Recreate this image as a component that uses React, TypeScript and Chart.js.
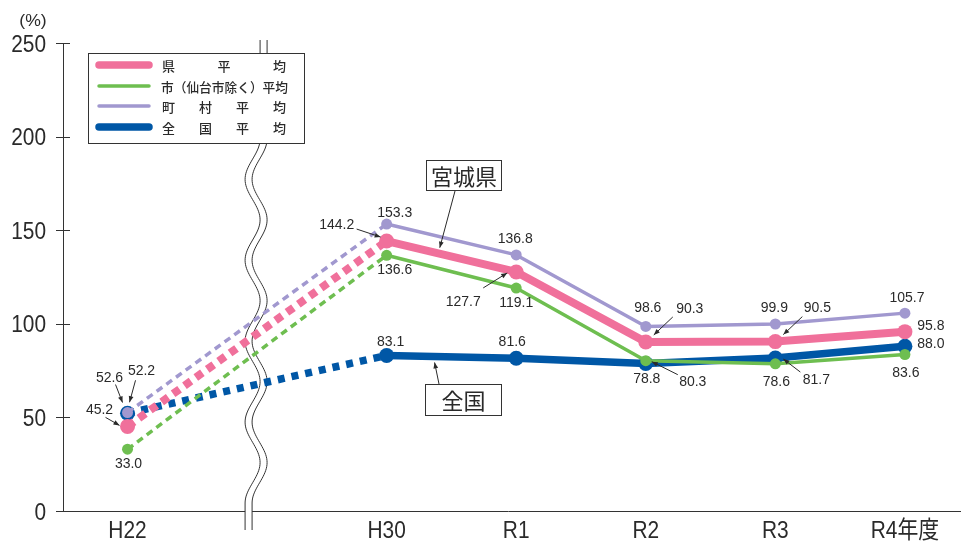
import React, { useEffect, useRef } from "react";
import { Chart, registerables } from "chart.js";

Chart.register(...registerables);

// ---------------- data ----------------
const categories = ["H22", "", "H30", "R1", "R2", "R3", "R4年度"];
const yTicks = [0, 50, 100, 150, 200, 250];
const seriesNames = ["県平均", "市（仙台市除く）平均", "町村平均", "全国平均"];
const kenAvg = [45.2, null, 144.2, 127.7, 90.3, 90.5, 95.8];
const shiAvg = [33.0, null, 136.6, 119.1, 80.3, 78.6, 83.6];
const chosonAvg = [52.6, null, 153.3, 136.8, 98.6, 99.9, 105.7];
const zenkokuAvg = [52.2, null, 83.1, 81.6, 78.8, 81.7, 88.0];
const calloutKen = "宮城県";
const calloutZenkoku = "全国";

// ---------------- styles ----------------
const PINK = "#f0709b";
const GREEN = "#6ebe50";
const LAVENDER = "#a198cf";
const BLUE = "#0057a6";
const INK = "#2a2a2a";
const LATIN = '"Liberation Sans", Arial, "Noto Sans CJK JP", sans-serif';
const JP = '"Noto Sans CJK JP", "Noto Sans CJK SC", sans-serif';

const seriesData = [kenAvg, shiAvg, chosonAvg, zenkokuAvg];
const seriesColors = [PINK, GREEN, LAVENDER, BLUE];
const seriesWidths = [8, 3.5, 3.5, 7.5];
const seriesRadius = [7.5, 5.5, 5.5, 7.5];
const seriesDash = [[8, 6], [7, 5], [7, 5], [7, 7]];
const seriesOrder = [1, 2, 0, 3];

// label placement: series index, category index, text offset, optional arrow offsets
type Ann = { s: number; i: number; dx: number; dy: number; ar?: number[] };
const labelPlacement: Ann[] = [
  { s: 2, i: 0, dx: -18, dy: -36, ar: [-12, -28, -5, -10] },
  { s: 3, i: 0, dx: 14, dy: -43, ar: [8, -33, 2, -11] },
  { s: 0, i: 0, dx: -28, dy: -17, ar: [-22, -9, -8, -1] },
  { s: 1, i: 0, dx: 1, dy: 14 },
  { s: 2, i: 2, dx: 8, dy: -12 },
  { s: 0, i: 2, dx: -50, dy: -17, ar: [-30, -12, -6, -4] },
  { s: 1, i: 2, dx: 8, dy: 14 },
  { s: 3, i: 2, dx: 4, dy: -14 },
  { s: 2, i: 3, dx: -1, dy: -17 },
  { s: 0, i: 3, dx: -53, dy: 29, ar: [-33, 16, -9, 1] },
  { s: 1, i: 3, dx: 0, dy: 14 },
  { s: 3, i: 3, dx: -4, dy: -17 },
  { s: 2, i: 4, dx: 2, dy: -19 },
  { s: 0, i: 4, dx: 44, dy: -34, ar: [27, -25, 8, -7] },
  { s: 1, i: 4, dx: 47, dy: 20, ar: [32, 14, 6, 1] },
  { s: 3, i: 4, dx: 1, dy: 15 },
  { s: 2, i: 5, dx: -1, dy: -17 },
  { s: 0, i: 5, dx: 42, dy: -35, ar: [27, -25, 8, -7] },
  { s: 1, i: 5, dx: 1, dy: 17 },
  { s: 3, i: 5, dx: 41, dy: 21, ar: [25, 14, 8, 1] },
  { s: 2, i: 6, dx: 2, dy: -16 },
  { s: 0, i: 6, dx: 26, dy: -7 },
  { s: 3, i: 6, dx: 26, dy: -3 },
  { s: 1, i: 6, dx: 1, dy: 17 },
];

function drawLatin(ctx: CanvasRenderingContext2D, text: string, x: number, cy: number, size: number, align: CanvasTextAlign, sx = 1) {
  ctx.save();
  ctx.font = `${size}px ${LATIN}`;
  ctx.textAlign = align;
  ctx.textBaseline = "alphabetic";
  ctx.translate(x, cy + size * 0.358);
  ctx.scale(sx, 1);
  ctx.fillText(text, 0, 0);
  ctx.restore();
}

function drawArrow(ctx: CanvasRenderingContext2D, x1: number, y1: number, x2: number, y2: number) {
  ctx.save();
  ctx.strokeStyle = INK;
  ctx.fillStyle = INK;
  ctx.lineWidth = 1;
  ctx.beginPath();
  ctx.moveTo(x1, y1);
  ctx.lineTo(x2, y2);
  ctx.stroke();
  const a = Math.atan2(y2 - y1, x2 - x1);
  const L = 6, W = 2.4;
  ctx.beginPath();
  ctx.moveTo(x2, y2);
  ctx.lineTo(x2 - L * Math.cos(a) + W * Math.sin(a), y2 - L * Math.sin(a) - W * Math.cos(a));
  ctx.lineTo(x2 - L * Math.cos(a) - W * Math.sin(a), y2 - L * Math.sin(a) + W * Math.cos(a));
  ctx.closePath();
  ctx.fill();
  ctx.restore();
}

function wavePoints(xs: any, ys: any, off: number) {
  const cx = xs.getPixelForValue(1) - 1;
  const A = 7.5;
  const yTop = ys.top - 3;
  const yBot = ys.bottom + 19;
  const w0 = ys.top + 15;
  const w1 = ys.bottom - 8;
  const halves = 11;
  const pts: number[][] = [];
  pts.push([cx + A + off, yTop]);
  for (let k = 0; k <= 220; k++) {
    const t = k / 220;
    const y = w0 + (w1 - w0) * t;
    const x = cx + A * Math.cos(Math.PI * halves * t) + off;
    pts.push([x, y]);
  }
  pts.push([cx + A * Math.cos(Math.PI * halves) + off, yBot]);
  return pts;
}

const framePlugin = {
  id: "frame",
  beforeDatasetsDraw(chart: any) {
    const ctx: CanvasRenderingContext2D = chart.ctx;
    const xs = chart.scales.x;
    const ys = chart.scales.y;
    const left = chart.chartArea.left;
    ctx.save();
    ctx.strokeStyle = "#333";
    ctx.lineWidth = 1;
    // y axis
    ctx.beginPath();
    ctx.moveTo(left + 0.5, ys.getPixelForValue(250));
    ctx.lineTo(left + 0.5, ys.getPixelForValue(0));
    ctx.stroke();
    // ticks
    yTicks.forEach((v) => {
      const y = Math.round(ys.getPixelForValue(v)) + 0.5;
      ctx.beginPath();
      ctx.moveTo(left - 7, y);
      ctx.lineTo(left + 7, y);
      ctx.stroke();
    });
    // x axis
    const yb = Math.round(ys.getPixelForValue(0)) + 0.5;
    ctx.beginPath();
    ctx.moveTo(left - 7, yb);
    ctx.lineTo(chart.width, yb);
    ctx.stroke();
    // break mark
    const a = wavePoints(xs, ys, -3.5);
    const b = wavePoints(xs, ys, 3.5);
    ctx.fillStyle = "#fff";
    ctx.beginPath();
    a.forEach((p, k) => (k === 0 ? ctx.moveTo(p[0], p[1]) : ctx.lineTo(p[0], p[1])));
    for (let k = b.length - 1; k >= 0; k--) ctx.lineTo(b[k][0], b[k][1]);
    ctx.closePath();
    ctx.fill();
    [a, b].forEach((pts) => {
      ctx.beginPath();
      pts.forEach((p, k) => (k === 0 ? ctx.moveTo(p[0], p[1]) : ctx.lineTo(p[0], p[1])));
      ctx.stroke();
    });
    // tick labels
    ctx.fillStyle = INK;
    yTicks.forEach((v) => {
      drawLatin(ctx, String(v), left - 17, ys.getPixelForValue(v), 24, "right", 0.87);
    });
    drawLatin(ctx, "(%)", 33, 20, 16, "center", 1.1);
    categories.forEach((c, i) => {
      if (!c) return;
      drawLatin(ctx, c, xs.getPixelForValue(i), ys.bottom + 18, 24, "center", 0.87);
    });
    ctx.restore();
  },
  afterDatasetsDraw(chart: any) {
    const ctx: CanvasRenderingContext2D = chart.ctx;
    const xs = chart.scales.x;
    const ys = chart.scales.y;
    ctx.save();
    ctx.fillStyle = INK;
    // value labels
    labelPlacement.forEach((l) => {
      const v = seriesData[l.s][l.i] as number;
      const px = xs.getPixelForValue(l.i);
      const py = ys.getPixelForValue(v);
      drawLatin(ctx, v.toFixed(1), px + l.dx, py + l.dy, 14, "center", 1);
      if (l.ar) drawArrow(ctx, px + l.ar[0], py + l.ar[1], px + l.ar[2], py + l.ar[3]);
    });

    // callout boxes
    const callout = (text: string, bx: number, by: number, bw: number, bh: number) => {
      ctx.fillStyle = "#fff";
      ctx.fillRect(bx, by, bw, bh);
      ctx.strokeStyle = "#333";
      ctx.lineWidth = 1;
      ctx.strokeRect(bx + 0.5, by + 0.5, bw - 1, bh - 1);
      ctx.fillStyle = INK;
      ctx.font = `22px ${JP}`;
      ctx.textAlign = "center";
      ctx.textBaseline = "middle";
      ctx.fillText(text, bx + bw / 2, by + bh / 2 + 1);
    };
    // 宮城県 -> pink segment H30..R1
    const t1 = 0.41;
    const kx = xs.getPixelForValue(2 + t1);
    const ky = ys.getPixelForValue(kenAvg[2] as number) + t1 * (ys.getPixelForValue(kenAvg[3] as number) - ys.getPixelForValue(kenAvg[2] as number));
    callout(calloutKen, 426, 160, 76, 31);
    drawArrow(ctx, 455, 191, kx, ky - 6);
    // 全国 -> blue segment H30..R1
    const t2 = 0.37;
    const zx = xs.getPixelForValue(2 + t2);
    const zy = ys.getPixelForValue(zenkokuAvg[2] as number) + t2 * (ys.getPixelForValue(zenkokuAvg[3] as number) - ys.getPixelForValue(zenkokuAvg[2] as number));
    callout(calloutZenkoku, 425, 384, 77, 32);
    drawArrow(ctx, 439, 384, zx, zy + 6);

    // legend
    const lx = 88, ly = 53, lw = 216, lh = 90;
    ctx.fillStyle = "#fff";
    ctx.fillRect(lx, ly, lw, lh);
    ctx.strokeStyle = "#333";
    ctx.lineWidth = 1;
    ctx.strokeRect(lx + 0.5, ly + 0.5, lw, lh);
    const rowsY = [65, 86, 106, 127];
    seriesNames.forEach((name, k) => {
      const y = rowsY[k];
      ctx.strokeStyle = seriesColors[k];
      ctx.lineWidth = k === 0 || k === 3 ? 7.5 : 3.5;
      ctx.lineCap = "round";
      ctx.beginPath();
      ctx.moveTo(99, y);
      ctx.lineTo(149, y);
      ctx.stroke();
      ctx.fillStyle = INK;
      ctx.font = `500 13px ${JP}`;
      ctx.textAlign = "left";
      ctx.textBaseline = "middle";
      const chars = Array.from(name);
      if (chars.length <= 4) {
        const step = (273 - 162) / (chars.length - 1);
        chars.forEach((ch, j) => ctx.fillText(ch, 162 + step * j, y + 1));
      } else {
        ctx.fillText(name, 161, y + 1, 127);
      }
    });
    ctx.restore();
  },
};

export default function App() {
  const ref = useRef<HTMLCanvasElement | null>(null);
  useEffect(() => {
    if (!ref.current) return;
    const datasets = seriesData.map((arr, k) => ({
      label: seriesNames[k],
      data: arr.map((v, i) => (v === null ? null : { x: i, y: v })).filter((p) => p !== null),
      borderColor: seriesColors[k],
      backgroundColor: seriesColors[k],
      pointBackgroundColor: seriesColors[k],
      pointBorderColor: seriesColors[k],
      pointBorderWidth: 0,
      borderWidth: seriesWidths[k],
      pointRadius: seriesRadius[k],
      pointHoverRadius: seriesRadius[k],
      borderJoinStyle: "round" as const,
      borderCapStyle: "butt" as const,
      tension: 0,
      order: seriesOrder[k],
      segment: {
        borderDash: (ctx: any) => (ctx.p0DataIndex === 0 ? seriesDash[k] : undefined),
      },
    }));
    const chart = new Chart(ref.current, {
      type: "line",
      data: { datasets: datasets as any },
      options: {
        responsive: false,
        animation: false,
        devicePixelRatio: 1,
        layout: { padding: { left: 63, right: 0, top: 43, bottom: 32 } },
        scales: {
          x: { type: "linear", min: -0.498, max: 6.375, display: false },
          y: { type: "linear", min: 0, max: 250, display: false },
        },
        plugins: { legend: { display: false }, tooltip: { enabled: false } },
        events: [],
      },
      plugins: [framePlugin],
    });
    return () => chart.destroy();
  }, []);
  return (
    <div style={{ position: "absolute", left: 0, top: 0, width: 961, height: 543, background: "#fff" }}>
      <canvas ref={ref} width={961} height={543} />
    </div>
  );
}
